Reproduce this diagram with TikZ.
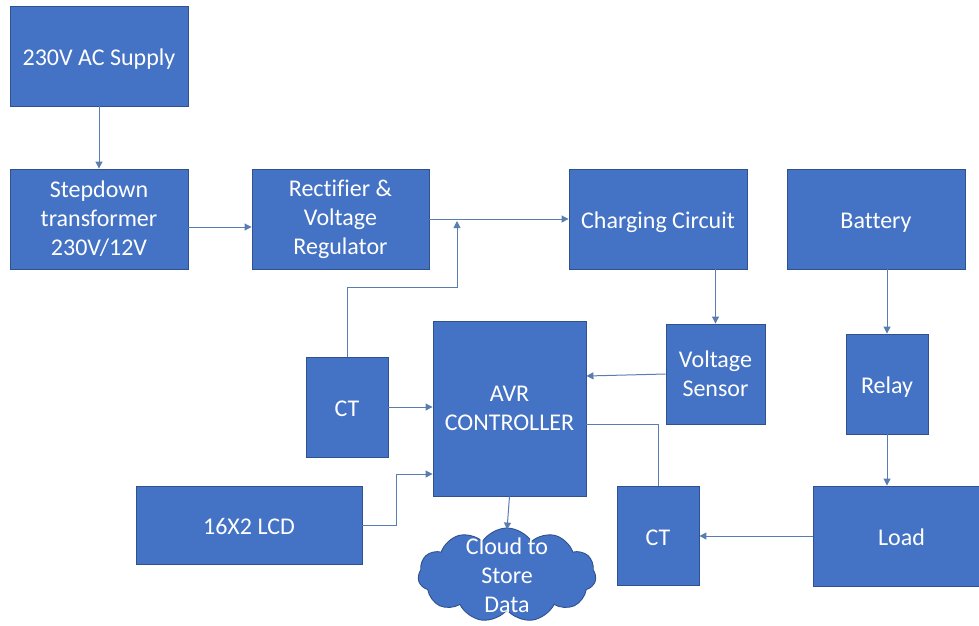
\documentclass[tikz,border=0pt]{standalone}
\usepackage{fontspec}
\setmainfont[Ligatures=NoCommon]{Carlito}
\usetikzlibrary{shapes.symbols,arrows.meta}
\definecolor{boxfill}{HTML}{4472C4}
\definecolor{boxline}{HTML}{2F528F}
\definecolor{conn}{HTML}{5A7DB0}
\tikzset{
  blk/.style={draw=boxline, line width=0.9pt, fill=boxfill, text=white, align=center,
    font=\fontsize{24}{29}\selectfont, inner sep=2pt},
  single/.style={text height=22pt, text depth=4pt},
  arr/.style={draw=conn, line width=1pt, -{Triangle[width=7pt,length=7pt]}},
  ln/.style={draw=conn, line width=1pt},
  ctxt/.style={text=white, align=center, font=\fontsize{24}{29}\selectfont}
}
\begin{document}
\begin{tikzpicture}[x=1pt,y=-1pt]
\useasboundingbox (0,0) rectangle (979,625);
\node[blk, single, minimum width=178pt, minimum height=100pt] (sup) at (99,56) {230V AC Supply};
\node[blk, minimum width=178pt, minimum height=100pt] (step) at (99,219) {Stepdown\\transformer\\230V/12V};
\node[blk, minimum width=177pt, minimum height=100pt] (rect) at (340.5,219) {Rectifier \&\\Voltage\\Regulator};
\node[blk, single, minimum width=178pt, minimum height=100pt] (chg) at (658,219) {Charging Circuit};
\node[blk, single, minimum width=178pt, minimum height=100pt] (bat) at (876,219) {Battery};
\node[blk, minimum width=99pt, minimum height=100pt] (sens) at (715.5,374) {Voltage\\Sensor};
\node[blk, minimum width=153pt, minimum height=175pt] (avr) at (509.5,408.5) {AVR\\CONTROLLER};
\node[blk, single, minimum width=82pt, minimum height=100pt] (ctl) at (347,407) {CT};
\node[blk, single, minimum width=82pt, minimum height=100pt] (rel) at (887,384) {Relay};
\node[blk, single, minimum width=226pt, minimum height=78pt] (lcd) at (249,525) {16X2 LCD};
\node[blk, single, minimum width=82pt, minimum height=99pt] (ctr) at (658,536) {CT};
\node[blk, single, minimum width=177pt, minimum height=100pt] (load) at (901.5,536) {Load};
\node[cloud, cloud puffs=11, cloud puff arc=115, draw=boxline, line width=0.9pt, fill=boxfill,
  minimum width=178pt, minimum height=94pt, inner sep=0pt,
  label={[ctxt]center:{Cloud to\\Store\\Data}}] (cloud) at (507,575) {};
% connectors
\coordinate (j1) at (457,221);
\coordinate (k1) at (0,376);
\coordinate (k2) at (0,424);
\coordinate (k3) at (0,474);
\coordinate (k4) at (396,0);
\draw[arr] (sup) -- (step);
\draw[arr] ([yshift=-8pt]step.east) -- ([yshift=-8pt]rect.west);
\draw[arr] (rect) -- (chg);
\draw[arr] (ctl.north) -- ++(0,-69) -| (j1);
\draw[arr] (chg.south -| sens.north) -- (sens.north);
\draw[arr] (sens.west) -- (avr.east |- k1);
\draw[ln] (avr.east |- k2) -| (ctr.north);
\draw[arr] (ctl.east) -- (ctl.east -| avr.west);
\draw[arr] (lcd.east) -| (k4 |- k3) -- (avr.west |- k3);
\draw[arr] (avr.south) -- ([yshift=-2pt]cloud.north);
\draw[arr] (bat.south -| rel.north) -- (rel.north);
\draw[arr] (rel.south) -- (rel.south |- load.north);
\draw[arr] (load.west) -- (ctr.east);
\end{tikzpicture}
\end{document}
